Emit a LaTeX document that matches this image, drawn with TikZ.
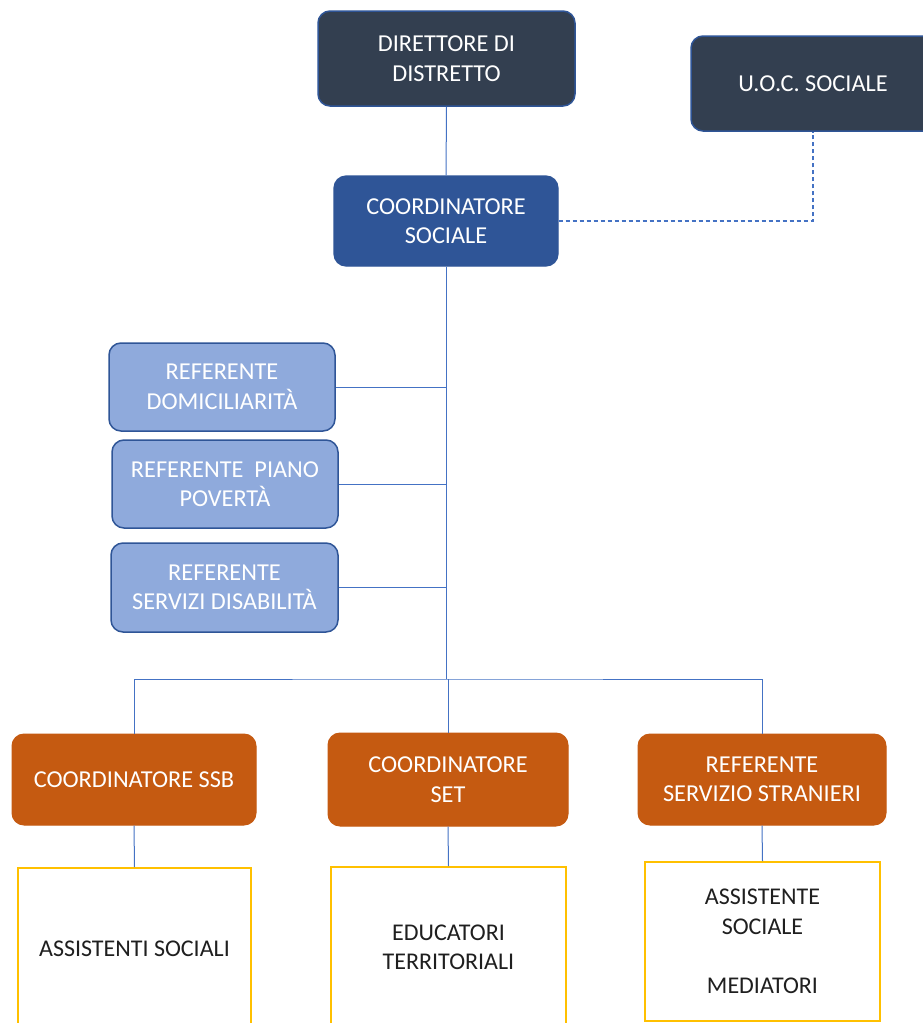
\documentclass[tikz,border=0pt]{standalone}
\usepackage{fontspec}
\setmainfont{Carlito}
\definecolor{darkbox}{HTML}{333F50}
\definecolor{midblue}{HTML}{2F5597}
\definecolor{lightblue}{HTML}{8FAADC}
\definecolor{orangebox}{HTML}{C55A11}
\definecolor{goldline}{HTML}{FFC000}
\definecolor{connline}{HTML}{4472C4}
\definecolor{darktext}{HTML}{1F1F1F}
\tikzset{
  boxbase/.style={rounded corners=12pt, align=center, text=white, inner sep=2pt,
    font=\fontsize{24.3}{29.5}\selectfont},
  darkn/.style={boxbase, fill=darkbox, draw=midblue, line width=1.5pt},
  socn/.style={boxbase, fill=midblue, draw=midblue, line width=1.2pt},
  refn/.style={boxbase, fill=lightblue, draw=midblue, line width=1.5pt},
  orgn/.style={boxbase, fill=orangebox, draw=orangebox, line width=1pt},
  staffn/.style={align=center, text=darktext, draw=goldline, fill=white, line width=2pt,
    font=\fontsize{24}{29.5}\selectfont, inner sep=2pt},
  conn/.style={draw=connline, line width=1pt},
  dconn/.style={draw=connline, line width=1.3pt, dash pattern=on 4pt off 3pt}
}
\begin{document}
\begin{tikzpicture}[x=1pt,y=-1pt]
\useasboundingbox[fill=white] (0,0) rectangle (922,1023);
% top level
\node[darkn, minimum width=257pt, minimum height=95pt] (dir) at (446.5,58.5) {DIRETTORE DI\\DISTRETTO};
\node[darkn, minimum width=244pt, minimum height=95pt] (uoc) at (813,83.5) {U.O.C. SOCIALE};
\node[socn, minimum width=224pt, minimum height=90pt] (cs) at (446,221) {COORDINATORE\\SOCIALE};
% referents
\node[refn, minimum width=226pt, minimum height=88pt] (rd) at (222,387) {REFERENTE\\DOMICILIARITÀ};
\node[refn, minimum width=226pt, minimum height=88pt] (rp) at (225,484) {REFERENTE\ \ PIANO\\POVERTÀ};
\node[refn, minimum width=227pt, minimum height=89pt] (rs) at (224.5,587.5) {REFERENTE\\SERVIZI DISABILITÀ};
% orange level
\node[orgn, minimum width=244pt, minimum height=91pt] (ssb) at (134,779.5) {COORDINATORE SSB};
\node[orgn, minimum width=240pt, minimum height=93pt] (set) at (448,779.5) {COORDINATORE\\SET};
\node[orgn, minimum width=248pt, minimum height=91pt] (str) at (762,779.5) {REFERENTE\\SERVIZIO STRANIERI};
% staff boxes
\node[staffn, minimum width=233pt, minimum height=162pt] (as) at (134.5,949) {ASSISTENTI SOCIALI};
\node[staffn, minimum width=235pt, minimum height=161pt] (ed) at (448.5,947.5) {EDUCATORI\\TERRITORIALI};
\node[staffn, minimum width=235pt, minimum height=159pt] (med) at (762.5,941.5) {ASSISTENTE\\SOCIALE\\[29.5pt]MEDIATORI};
% connectors
\coordinate (bus) at (447,679);
\draw[conn] (dir.south) -- (cs.north);
\draw[dconn] (cs.east) -| (uoc.south);
\draw[conn] (cs.south) -- (cs.south |- bus);
\draw[conn] (rd.east) -- (rd.east -| cs.south);
\draw[conn] (rp.east) -- (rp.east -| cs.south);
\draw[conn] (rs.east) -- (rs.east -| cs.south);
\draw[conn] (ssb.north) |- (bus) -| (str.north);
\draw[conn] (set.north) -- (set.north |- bus);
\draw[conn] (ssb.south) -- (as.north);
\draw[conn] (set.south) -- (ed.north);
\draw[conn] (str.south) -- (med.north);
\end{tikzpicture}
\end{document}
